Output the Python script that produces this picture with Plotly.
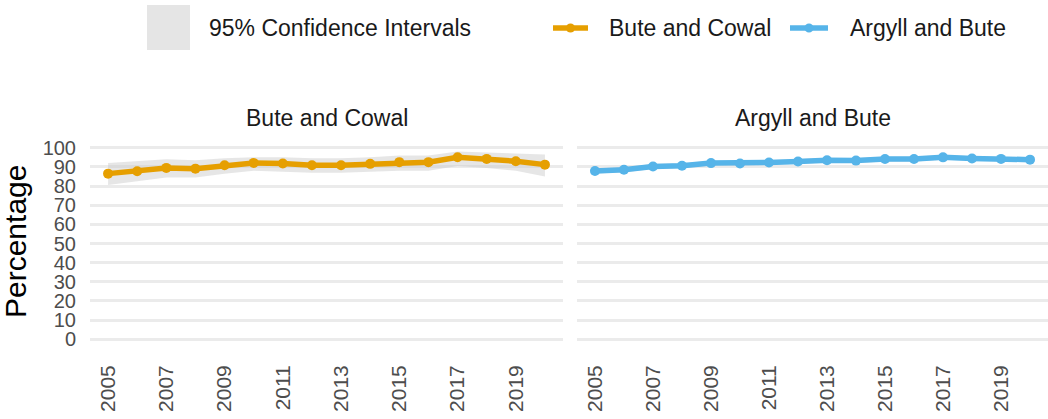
"""
Percentage over time, two areas side by side with 95% CIs
"""
import plotly.graph_objects as go
from plotly.subplots import make_subplots

years = list(range(2005, 2021))

bute_cowal = [86.5, 87.7, 89.5, 89.1, 90.9, 92.1, 91.8, 90.9,
              90.9, 91.6, 92.5, 92.5, 95.1, 94.2, 93.0, 91.2]
bute_cowal_lower = [80.5, 82.5, 84.5, 84.5, 86.5, 88.0, 87.5, 87.0,
                    87.0, 87.5, 88.0, 88.0, 90.5, 89.5, 88.0, 85.0]
bute_cowal_upper = [92.0, 93.0, 94.0, 93.5, 94.5, 95.0, 95.0, 94.5,
                    94.5, 95.0, 96.0, 96.0, 98.0, 97.5, 97.0, 96.5]

argyll_bute = [87.9, 88.5, 90.2, 90.6, 92.0, 91.8, 92.3, 92.8,
               93.5, 93.3, 94.1, 94.1, 95.0, 94.4, 94.2, 93.8]
argyll_bute_lower = [86.6, 87.2, 88.9, 89.3, 90.8, 90.6, 91.1, 91.6,
                     92.3, 92.1, 92.9, 92.9, 93.8, 93.2, 93.0, 92.6]
argyll_bute_upper = [89.2, 89.8, 91.5, 91.9, 93.2, 93.0, 93.5, 94.0,
                     94.7, 94.5, 95.3, 95.3, 96.2, 95.6, 95.4, 95.0]

panels = ['Bute and Cowal', 'Argyll and Bute']
colours = ['#E69F00', '#56B4E9']
ci_label = '95% Confidence Intervals'
y_ticks = list(range(0, 101, 10))
x_ticks = list(range(2005, 2021, 2))

W, H = 1048, 419
M_L, M_R, M_T, M_B = 90, 0, 143, 75
FONT = 'Liberation Sans, Arial, sans-serif'


def px_x(p):
    return (p - M_L) / (W - M_L - M_R)


def px_y(p):
    return (H - M_B - p) / (H - M_T - M_B)


fig = make_subplots(rows=1, cols=2, shared_yaxes=True)

series = [
    (bute_cowal, bute_cowal_lower, bute_cowal_upper),
    (argyll_bute, argyll_bute_lower, argyll_bute_upper),
]

for i, (vals, lo, hi) in enumerate(series):
    # CI band
    fig.add_trace(go.Scatter(
        x=years + years[::-1],
        y=hi + lo[::-1],
        fill='toself',
        fillcolor='rgba(200,200,200,0.45)',
        line=dict(width=0),
        hoverinfo='skip',
        showlegend=False,
    ), row=1, col=i + 1)
    # line
    fig.add_trace(go.Scatter(
        x=years, y=vals,
        mode='lines+markers',
        name=panels[i],
        line=dict(color=colours[i], width=5.5),
        marker=dict(color=colours[i], size=10),
        showlegend=False,
    ), row=1, col=i + 1)

x_range = [2004.38, 2020.62]
for c in (1, 2):
    fig.update_xaxes(
        range=x_range, tickvals=x_ticks, tickangle=-90,
        showgrid=False, zeroline=False, showline=False,
        tickfont=dict(size=21, color='#4d4d4d', family=FONT),
        ticklabelstandoff=16,
        row=1, col=c,
    )
    fig.update_yaxes(
        range=[-2.5, 102.5], tickvals=y_ticks,
        showgrid=True, gridcolor='#ebebeb', gridwidth=2.5,
        zeroline=False, showline=False,
        tickfont=dict(size=20, color='#4d4d4d', family=FONT),
        ticklabelstandoff=13,
        row=1, col=c,
    )

fig.update_xaxes(domain=[0, px_x(563)], row=1, col=1)
fig.update_xaxes(domain=[px_x(577), 1], row=1, col=2)
fig.update_yaxes(showticklabels=False, row=1, col=2)

# panel strip titles
annotations = []
for cx, t in zip([(90 + 563) / 2, (577 + 1048) / 2], panels):
    annotations.append(dict(
        x=px_x(cx), y=px_y(118), xref='paper', yref='paper',
        text=t, showarrow=False, xanchor='center', yanchor='middle',
        font=dict(size=23, color='#1a1a1a', family=FONT),
    ))

# y title
annotations.append(dict(
    x=px_x(15), y=px_y(242), xref='paper', yref='paper',
    text='Percentage', showarrow=False, textangle=-90,
    xanchor='center', yanchor='middle',
    font=dict(size=30, color='#000000', family=FONT),
))

# legend, drawn by hand in the ggplot style
shapes = [dict(
    type='rect', xref='paper', yref='paper',
    x0=px_x(147), x1=px_x(190), y0=px_y(50), y1=px_y(5),
    fillcolor='#e5e5e5', line=dict(width=0), layer='above',
)]
legend_items = [
    (ci_label, 207, None),
    (panels[0], 607, (553, 588)),
    (panels[1], 848, (790, 828)),
]
ly = 28
for k, (label, tx, icon) in enumerate(legend_items):
    annotations.append(dict(
        x=px_x(tx), y=px_y(ly), xref='paper', yref='paper',
        text=label, showarrow=False, xanchor='left', yanchor='middle',
        font=dict(size=23, color='#1a1a1a', family=FONT),
    ))
    if icon is not None:
        col = colours[k - 1]
        shapes.append(dict(
            type='line', xref='paper', yref='paper',
            x0=px_x(icon[0]), x1=px_x(icon[1]), y0=px_y(ly), y1=px_y(ly),
            line=dict(color=col, width=5.5), layer='above',
        ))
        cx = (icon[0] + icon[1]) / 2
        shapes.append(dict(
            type='circle', xref='paper', yref='paper',
            x0=px_x(cx - 4.5), x1=px_x(cx + 4.5),
            y0=px_y(ly + 4.5), y1=px_y(ly - 4.5),
            fillcolor=col, line=dict(width=0), layer='above',
        ))

fig.update_layout(
    width=W, height=H,
    margin=dict(l=M_L, r=M_R, t=M_T, b=M_B, autoexpand=False),
    plot_bgcolor='white', paper_bgcolor='white',
    font=dict(family=FONT),
    showlegend=False,
    annotations=annotations,
    shapes=shapes,
)

fig.write_html("out.html", config={'displayModeBar': False},
               post_script="document.body.style.margin='0';")
